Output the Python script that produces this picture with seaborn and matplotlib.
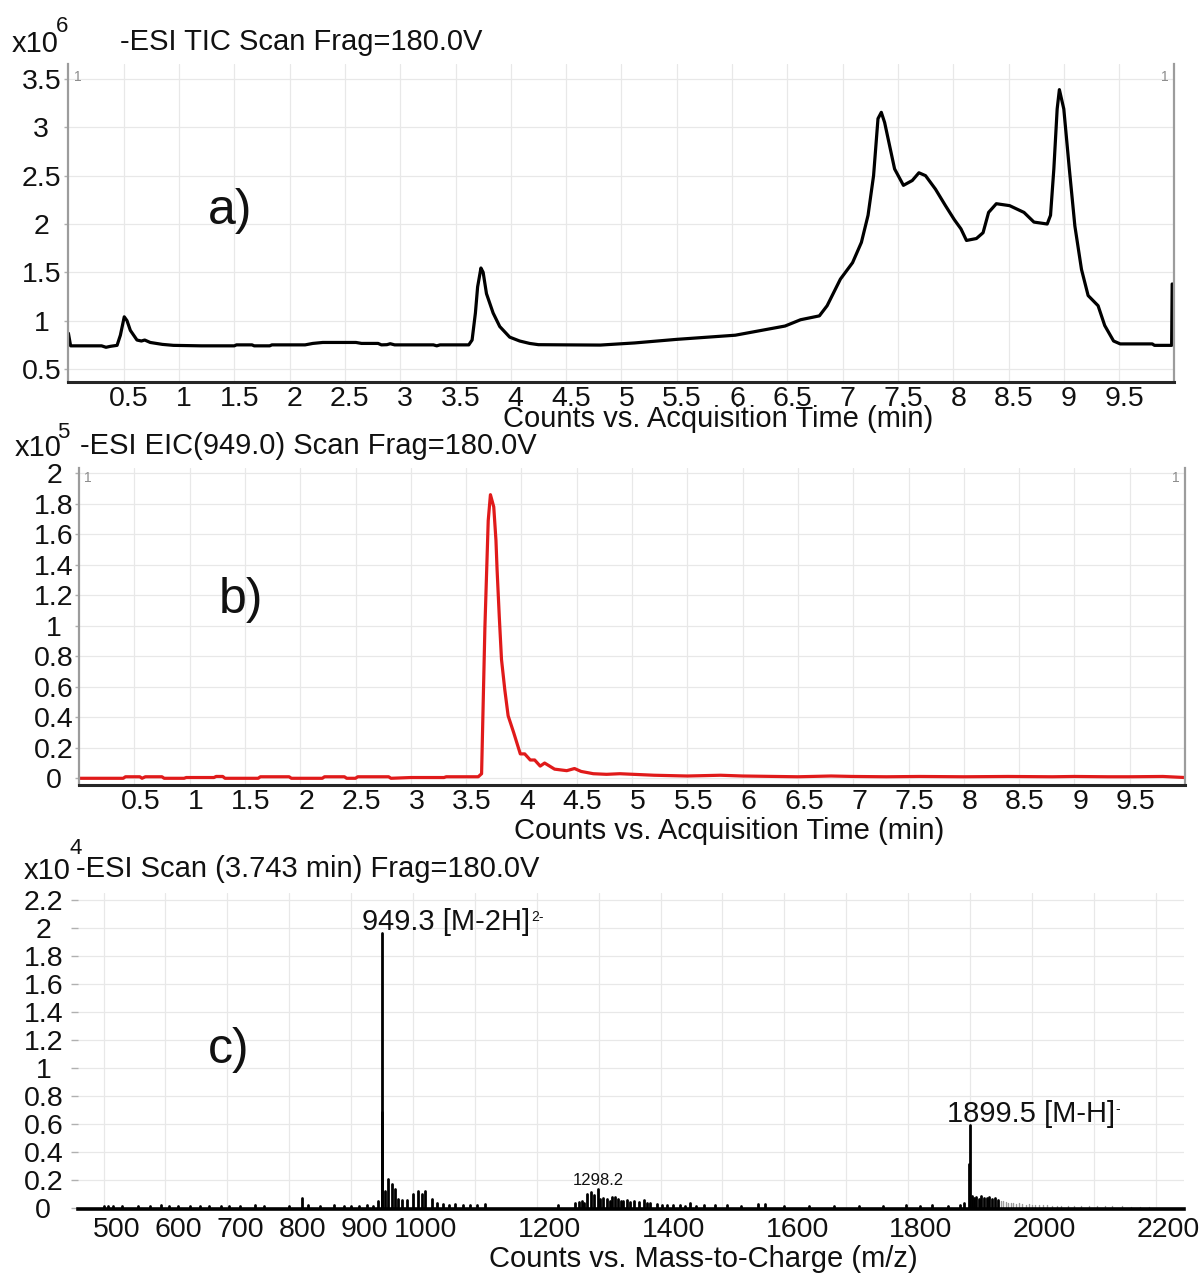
import numpy as np
import pandas as pd
import matplotlib
matplotlib.use("Agg")
import matplotlib.pyplot as plt
import matplotlib.transforms as mtransforms
import seaborn as sns

# ---------------- data ----------------
# a) TIC, counts in units of 1e6
tic_time = [0.00, 0.02, 0.10, 0.30, 0.34, 0.38, 0.44, 0.47, 0.505, 0.53, 0.56, 0.62,
            0.66, 0.69, 0.74, 0.85, 0.95, 1.20, 1.50, 1.52, 1.66, 1.68, 1.82, 1.84,
            2.14, 2.21, 2.30, 2.45, 2.60, 2.65, 2.80, 2.83, 2.88, 2.91, 2.95, 3.30,
            3.33, 3.36, 3.62, 3.65, 3.68, 3.70, 3.73, 3.75, 3.78, 3.84, 3.90, 3.99,
            4.08, 4.17, 4.25, 4.50, 4.81, 5.12, 5.50, 6.03, 6.48, 6.62, 6.79, 6.86,
            6.98, 7.09, 7.17, 7.23, 7.28, 7.32, 7.35, 7.38, 7.47, 7.55, 7.63, 7.69,
            7.75, 7.84, 7.93, 8.01, 8.07, 8.12, 8.21, 8.27, 8.32, 8.39, 8.51, 8.64,
            8.73, 8.85, 8.88, 8.91, 8.94, 8.96, 9.00, 9.05, 9.10, 9.16, 9.22, 9.31,
            9.37, 9.45, 9.51, 9.80, 9.82, 9.975, 9.98]
tic_counts = [0.87, 0.74, 0.74, 0.74, 0.725, 0.735, 0.745, 0.85, 1.04, 1.00, 0.90, 0.80,
              0.79, 0.80, 0.775, 0.755, 0.745, 0.74, 0.74, 0.75, 0.75, 0.74, 0.74, 0.75,
              0.75, 0.765, 0.775, 0.775, 0.775, 0.765, 0.765, 0.75, 0.752, 0.762, 0.75, 0.75,
              0.74, 0.75, 0.75, 0.80, 1.08, 1.35, 1.545, 1.50, 1.28, 1.08, 0.94, 0.83,
              0.79, 0.765, 0.752, 0.75, 0.748, 0.77, 0.807, 0.85, 0.945, 1.01, 1.05, 1.155,
              1.43, 1.60, 1.81, 2.09, 2.50, 3.09, 3.155, 3.05, 2.57, 2.40, 2.45, 2.53,
              2.50, 2.36, 2.19, 2.045, 1.95, 1.83, 1.85, 1.91, 2.12, 2.21, 2.19, 2.12,
              2.02, 2.00, 2.09, 2.57, 3.19, 3.39, 3.19, 2.57, 1.98, 1.53, 1.26, 1.155,
              0.95, 0.79, 0.76, 0.76, 0.745, 0.745, 1.38]

# b) EIC(949.0), counts in units of 1e5
eic_time = [0.00, 0.40, 0.42, 0.55, 0.57, 0.60, 0.75, 0.77, 0.95, 0.97, 1.22, 1.24,
            1.30, 1.32, 1.62, 1.64, 1.90, 1.92, 2.20, 2.22, 2.40, 2.42, 2.50, 2.52,
            2.80, 2.82, 3.00, 3.30, 3.32, 3.61, 3.64, 3.67, 3.70, 3.72, 3.75, 3.77,
            3.78, 3.80, 3.82, 3.85, 3.88, 3.93, 3.99, 4.03, 4.08, 4.12, 4.17, 4.21,
            4.30, 4.41, 4.48, 4.54, 4.65, 4.77, 4.89, 4.95, 5.20, 5.50, 5.80, 6.00,
            6.30, 6.50, 6.80, 7.00, 7.30, 7.60, 8.00, 8.40, 8.80, 9.00, 9.30, 9.50,
            9.80, 10.00]
eic_counts = [0.0, 0.0, 0.01, 0.01, 0.0, 0.01, 0.01, 0.0, 0.0, 0.005, 0.005, 0.012,
              0.012, 0.0, 0.0, 0.01, 0.01, 0.0, 0.0, 0.01, 0.01, 0.0, 0.0, 0.01,
              0.01, 0.0, 0.005, 0.005, 0.01, 0.01, 0.03, 0.99, 1.69, 1.86, 1.78, 1.56,
              1.37, 1.06, 0.78, 0.58, 0.41, 0.30, 0.16, 0.16, 0.12, 0.12, 0.08, 0.10,
              0.06, 0.05, 0.064, 0.045, 0.03, 0.026, 0.03, 0.028, 0.02, 0.015, 0.02, 0.015,
              0.012, 0.01, 0.015, 0.012, 0.01, 0.012, 0.01, 0.012, 0.01, 0.012, 0.01, 0.01,
              0.012, 0.005]

# c) spectrum at 3.743 min, counts in units of 1e4
ms_mz = [500, 507, 515, 530, 555, 575, 592, 605, 620, 640, 655, 670, 690, 703, 720,
         745, 760, 800, 820, 830, 850, 872, 888, 900, 912, 925, 935, 944, 949.3, 950.0,
         955, 960, 966, 971, 975, 982, 990, 1000, 1008, 1014, 1020, 1030, 1038, 1049,
         1058, 1068, 1081, 1092, 1103, 1116, 1235, 1262, 1268, 1273, 1277, 1281, 1287,
         1292, 1298.2, 1303, 1307, 1314, 1318, 1322, 1327, 1332, 1336, 1340, 1346, 1351,
         1357, 1365, 1373, 1378, 1383, 1394, 1402, 1410, 1420, 1431, 1440, 1448, 1458,
         1470, 1488, 1507, 1530, 1558, 1569, 1600, 1640, 1680, 1720, 1760, 1797, 1820,
         1838, 1865, 1884, 1890, 1898, 1899.5, 1903, 1906, 1910, 1914, 1918, 1922, 1927,
         1931, 1935, 1940, 1945]
ms_int = [0.01, 0.012, 0.01, 0.01, 0.008, 0.01, 0.015, 0.01, 0.008, 0.01, 0.008, 0.008,
          0.008, 0.01, 0.01, 0.02, 0.01, 0.01, 0.065, 0.015, 0.01, 0.02, 0.012, 0.01,
          0.012, 0.015, 0.012, 0.05, 1.96, 0.68, 0.12, 0.207, 0.17, 0.136, 0.064, 0.057,
          0.052, 0.095, 0.12, 0.095, 0.12, 0.064, 0.033, 0.029, 0.02, 0.029, 0.02, 0.015,
          0.02, 0.024, 0.02, 0.03, 0.04, 0.05, 0.035, 0.095, 0.11, 0.088, 0.13, 0.06,
          0.07, 0.062, 0.05, 0.076, 0.076, 0.062, 0.045, 0.048, 0.057, 0.04, 0.048, 0.04,
          0.052, 0.03, 0.033, 0.029, 0.02, 0.021, 0.015, 0.021, 0.012, 0.033, 0.012, 0.021,
          0.021, 0.021, 0.01, 0.024, 0.024, 0.01, 0.01, 0.012, 0.01, 0.012, 0.015, 0.01,
          0.015, 0.01, 0.02, 0.03, 0.31, 0.59, 0.08, 0.07, 0.076, 0.06, 0.083, 0.065,
          0.07, 0.075, 0.06, 0.065, 0.055]
ms_tail_mz = [1950, 1954, 1958, 1962, 1966, 1970, 1975, 1980, 1985, 1990, 1995, 2000,
              2006, 2012, 2018, 2025, 2032, 2040, 2048, 2058, 2068, 2080, 2092, 2105,
              2118, 2130, 2145, 2160, 2175, 2190]
ms_tail_int = [0.05, 0.045, 0.04, 0.03, 0.035, 0.03, 0.028, 0.03, 0.025, 0.022, 0.025,
               0.02, 0.02, 0.018, 0.015, 0.015, 0.012, 0.012, 0.01, 0.01, 0.012, 0.008,
               0.01, 0.008, 0.01, 0.008, 0.008, 0.006, 0.006, 0.005]

a_xticks = [0.5, 1, 1.5, 2, 2.5, 3, 3.5, 4, 4.5, 5, 5.5, 6, 6.5, 7, 7.5, 8, 8.5, 9, 9.5]
a_xlabels = ["0.5", "1", "1.5", "2", "2.5", "3", "3.5", "4", "4.5", "5", "5.5", "6",
             "6.5", "7", "7.5", "8", "8.5", "9", "9.5"]
a_yticks = [0.5, 1, 1.5, 2, 2.5, 3, 3.5]
a_ylabels = ["0.5", "1", "1.5", "2", "2.5", "3", "3.5"]
b_yticks = [0, 0.2, 0.4, 0.6, 0.8, 1.0, 1.2, 1.4, 1.6, 1.8, 2.0]
b_ylabels = ["0", "0.2", "0.4", "0.6", "0.8", "1", "1.2", "1.4", "1.6", "1.8", "2"]
c_xticks = [500, 600, 700, 800, 900, 1000, 1100, 1200, 1300, 1400, 1500, 1600, 1700,
            1800, 1900, 2000, 2100, 2200]
c_xlabels = ["500", "600", "700", "800", "900", "1000", "", "1200", "", "1400", "",
             "1600", "", "1800", "", "2000", "", "2200"]
c_yticks = [0, 0.2, 0.4, 0.6, 0.8, 1.0, 1.2, 1.4, 1.6, 1.8, 2.0, 2.2]
c_ylabels = ["0", "0.2", "0.4", "0.6", "0.8", "1", "1.2", "1.4", "1.6", "1.8", "2", "2.2"]

# ---------------- figure ----------------
W, H = 1204, 1276
sns.set_theme(style="whitegrid")
plt.rcParams['font.family'] = ['Liberation Sans', 'DejaVu Sans']
plt.rcParams['text.color'] = '#111111'

FS = 21
TICK_FS = 20.5
GRID = '#e8e8e8'
SPINE_GRAY = '#9c9c9c'
AXIS_DARK = '#262626'
RED = '#e01a1a'

fig = plt.figure(figsize=(W / 100, H / 100), dpi=100)
fig.patch.set_facecolor('white')


def px_rect(left, top, right, bottom):
    return [left / W, 1 - bottom / H, (right - left) / W, (bottom - top) / H]


def ftext(x, y, s, **kw):
    return fig.text(x / W, 1 - y / H, s, **kw)


def style_axes(ax, xlim, ylim, xt, xl, yt, yl, ypad, xpad, xshift,
               side_spines=True, ytick_len=3):
    ax.set_xlim(*xlim)
    ax.set_ylim(*ylim)
    ax.set_xticks(xt)
    ax.set_xticklabels(xl)
    ax.set_yticks(yt)
    ax.set_yticklabels(yl)
    ax.set_xlabel("")
    ax.set_ylabel("")
    ax.set_facecolor('white')
    ax.grid(True, color=GRID, lw=0.9)
    ax.set_axisbelow(True)
    for name, sp in ax.spines.items():
        sp.set_visible(False)
    ax.spines['bottom'].set_visible(True)
    ax.spines['bottom'].set_color(AXIS_DARK)
    ax.spines['bottom'].set_linewidth(2.2)
    ax.spines['bottom'].set_zorder(5)
    if side_spines:
        for name in ('left', 'right'):
            ax.spines[name].set_visible(True)
            ax.spines[name].set_color(SPINE_GRAY)
            ax.spines[name].set_linewidth(1.6)
    ax.tick_params(axis='x', length=0, pad=xpad, labelsize=TICK_FS, colors='#111111')
    ax.tick_params(axis='y', length=ytick_len, width=1, color='#b0b0b0', pad=ypad,
                   labelsize=TICK_FS, labelcolor='#111111', left=True)
    off = mtransforms.ScaledTranslation(xshift / 100, 0, fig.dpi_scale_trans)
    for lab in ax.get_xticklabels():
        lab.set_transform(lab.get_transform() + off)
    for lab in ax.get_yticklabels():
        lab.set_horizontalalignment('center')


# ---- a) TIC ----
ax_a = fig.add_axes(px_rect(68.4, 64, 1174.4, 382))
tic_df = pd.DataFrame({"time": tic_time, "counts": tic_counts})
sns.lineplot(data=tic_df, x="time", y="counts", ax=ax_a, color='black', lw=2.3,
             sort=False, estimator=None)
style_axes(ax_a, (0, 10.0), (0.366, 3.655), a_xticks, a_xlabels, a_yticks, a_ylabels,
           ypad=16.5, xpad=3, xshift=5)

# ---- b) EIC ----
ax_b = fig.add_axes(px_rect(79, 468, 1185, 785))
eic_df = pd.DataFrame({"time": eic_time, "counts": eic_counts})
sns.lineplot(data=eic_df, x="time", y="counts", ax=ax_b, color=RED, lw=2.3,
             sort=False, estimator=None)
style_axes(ax_b, (0, 10.0), (-0.044, 2.035), a_xticks, a_xlabels, b_yticks, b_ylabels,
           ypad=15, xpad=3, xshift=6)

# ---- c) mass spectrum ----
ax_c = fig.add_axes(px_rect(78, 892.5, 1184, 1209))


def sticks(mz, inten, tag):
    n = len(mz)
    return pd.DataFrame({
        "mz": np.repeat(mz, 2),
        "intensity": np.ravel(np.column_stack([np.zeros(n), inten])),
        "peak": np.repeat([f"{tag}{i}" for i in range(n)], 2),
    })


sns.lineplot(data=sticks(ms_tail_mz, ms_tail_int, "t"), x="mz", y="intensity",
             units="peak", estimator=None, ax=ax_c, color='#9a9a9a', lw=1.0)
sns.lineplot(data=sticks(ms_mz, ms_int, "p"), x="mz", y="intensity",
             units="peak", estimator=None, ax=ax_c, color='black', lw=2.0)
style_axes(ax_c, (458.6, 2246), (-0.01, 2.25), c_xticks, c_xlabels, c_yticks, c_ylabels,
           ypad=20, xpad=6, xshift=13, side_spines=False, ytick_len=5)
ax_c.spines['bottom'].set_color('black')
ax_c.spines['bottom'].set_linewidth(2.6)

# peak labels
i_main = ms_mz.index(949.3)
lab1 = ax_c.annotate("949.3 [M-2H]", xy=(ms_mz[i_main], ms_int[i_main]),
                     xytext=(-20, 11), textcoords='offset pixels', ha='left', va='center',
                     fontsize=21)
ax_c.annotate("2-", xy=(1, 1), xycoords=lab1, xytext=(1, -2), textcoords='offset pixels',
              ha='left', va='top', fontsize=10)
i_mh = ms_mz.index(1899.5)
lab2 = ax_c.annotate("1899.5 [M-H]", xy=(ms_mz[i_mh], ms_int[i_mh]),
                     xytext=(-23, 11), textcoords='offset pixels', ha='left', va='center',
                     fontsize=21)
ax_c.annotate("-", xy=(1, 1), xycoords=lab2, xytext=(1, -2), textcoords='offset pixels',
              ha='left', va='top', fontsize=10)
i_13 = ms_mz.index(1298.2)
ax_c.annotate("1298.2", xy=(ms_mz[i_13], ms_int[i_13]), xytext=(1, 9),
              textcoords='offset pixels', ha='center', va='center', fontsize=12)

# panel letters
for letter, (lx, ly) in (("a)", (230, 211)), ("b)", (241, 600)), ("c)", (229, 1050))):
    ftext(lx, ly, letter, fontsize=36, ha='center', va='center')

# corner markers
for (x, y) in ((78, 77), (1165, 77), (88, 478), (1176, 478)):
    ftext(x, y, "1", fontsize=10, color='#8c8c8c', ha='center', va='center')

# scale prefixes and scan titles
for (x, y, exp, ex, ey, title, tx) in (
        (12, 44, "6", 56, 27, "-ESI TIC Scan Frag=180.0V", 120),
        (15, 448, "5", 57, 433, "-ESI EIC(949.0) Scan Frag=180.0V", 80),
        (24, 871, "4", 70, 849, "-ESI Scan (3.743 min) Frag=180.0V", 76)):
    ftext(x, y, "x10", fontsize=FS, ha='left', va='center')
    ftext(ex, ey, exp, fontsize=16, ha='left', va='center')
    ftext(tx, y - 2, title, fontsize=FS, ha='left', va='center')

# axis titles
ftext(718, 419, "Counts vs. Acquisition Time (min)", fontsize=FS, ha='center', va='center')
ftext(729, 831, "Counts vs. Acquisition Time (min)", fontsize=FS, ha='center', va='center')
ftext(703, 1259, "Counts vs. Mass-to-Charge (m/z)", fontsize=FS, ha='center', va='center')

fig.savefig("out.png", dpi=100, facecolor='white')
